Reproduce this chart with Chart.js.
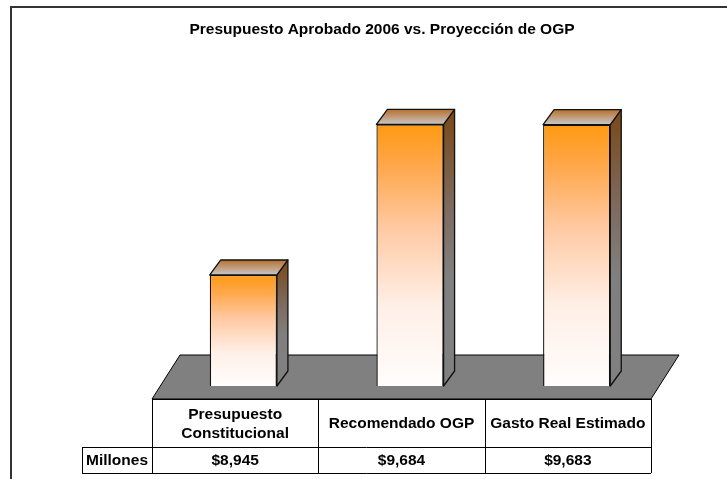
<!DOCTYPE html>
<html>
<head>
<meta charset="utf-8">
<script src="https://cdn.jsdelivr.net/npm/chart.js@4"></script>
<style>
  body { margin: 0; background: #fff; }
</style>
</head>
<body>
<canvas id="chart" width="727" height="479"></canvas>
<script>
const title = 'Presupuesto Aprobado 2006 vs. Proyección de OGP'
const categories = [['Presupuesto', 'Constitucional'], 'Recomendado OGP', 'Gasto Real Estimado']
const values = [8945, 9684, 9683]
const rowLabel = 'Millones'

const FONT = 'bold 15.5px "Liberation Sans", Arial, sans-serif'
const DX = 11, DY = 15

function frontFill(c) {
  const { chart } = c
  const { chartArea, scales } = chart
  if (!chartArea) return '#ff9a12'
  const top = scales.y.getPixelForValue(values[c.dataIndex])
  const g = chart.ctx.createLinearGradient(0, top, 0, chartArea.bottom)
  g.addColorStop(0, '#ff9a12')
  g.addColorStop(0.15, '#ffa648')
  g.addColorStop(0.4, '#ffcaa4')
  g.addColorStop(0.7, '#fff0e7')
  g.addColorStop(1, '#fffdfc')
  return g
}

const box3d = {
  id: 'box3d',
  beforeDraw(chart) {
    const ctx = chart.ctx
    ctx.save()
    ctx.strokeStyle = '#333'
    ctx.lineWidth = 2
    ctx.strokeRect(11, 7, 800, 600)
    ctx.restore()
  },
  beforeDatasetsDraw(chart) {
    const { ctx, chartArea: a } = chart
    ctx.save()
    ctx.beginPath()
    ctx.moveTo(a.left - 8, a.bottom + 13)
    ctx.lineTo(a.left + 20, a.bottom - 31)
    ctx.lineTo(a.right + 19, a.bottom - 31)
    ctx.lineTo(a.right - 9, a.bottom + 13)
    ctx.closePath()
    ctx.fillStyle = '#808080'
    ctx.fill()
    ctx.strokeStyle = '#000'
    ctx.lineWidth = 1
    ctx.stroke()
    ctx.restore()
  },
  afterDatasetsDraw(chart) {
    const { ctx, chartArea: a } = chart
    const meta = chart.getDatasetMeta(0)
    ctx.save()
    ctx.strokeStyle = '#111'
    ctx.lineWidth = 1.3
    ctx.lineJoin = 'round'
    meta.data.forEach(bar => {
      const { x, y, width } = bar.getProps(['x', 'y', 'width'], true)
      const base = a.bottom
      const l = x - width / 2, r = x + width / 2

      // side
      let g = ctx.createLinearGradient(0, y - DY, 0, base)
      g.addColorStop(0, '#7a4818')
      g.addColorStop(0.35, '#7e6a5e')
      g.addColorStop(0.6, '#808080')
      g.addColorStop(1, '#808080')
      ctx.beginPath()
      ctx.moveTo(r, y)
      ctx.lineTo(r + DX, y - DY)
      ctx.lineTo(r + DX, base - DY)
      ctx.lineTo(r, base)
      ctx.closePath()
      ctx.fillStyle = g
      ctx.fill()
      ctx.stroke()

      // top
      g = ctx.createLinearGradient(0, y - DY, 0, y)
      g.addColorStop(0, '#b8702e')
      g.addColorStop(1, '#c8c8c8')
      ctx.beginPath()
      ctx.moveTo(l, y)
      ctx.lineTo(l + DX, y - DY)
      ctx.lineTo(r + DX, y - DY)
      ctx.lineTo(r, y)
      ctx.closePath()
      ctx.fillStyle = g
      ctx.fill()
      ctx.stroke()
    })
    ctx.restore()
  },
  afterDraw(chart) {
    const { ctx, chartArea: a } = chart
    ctx.save()
    ctx.fillStyle = '#000'
    ctx.font = FONT
    ctx.textAlign = 'center'
    ctx.textBaseline = 'middle'
    ctx.fillText(title, 382, 30)

    // data table
    const left = a.left - 8, right = a.right - 9
    const top = a.bottom + 13, mid = top + 48, bottom = mid + 26
    const labelLeft = 82
    const colW = (right - left) / categories.length
    ctx.strokeStyle = '#000'
    ctx.lineWidth = 1
    ctx.beginPath()
    ctx.moveTo(left, top + 0.5); ctx.lineTo(right, top + 0.5)
    ctx.moveTo(labelLeft, mid + 0.5); ctx.lineTo(right, mid + 0.5)
    ctx.moveTo(labelLeft, bottom + 0.5); ctx.lineTo(right, bottom + 0.5)
    ctx.moveTo(labelLeft + 0.5, mid); ctx.lineTo(labelLeft + 0.5, bottom)
    for (let i = 0; i <= categories.length; i++) {
      const xl = Math.round(left + colW * i) + 0.5
      ctx.moveTo(xl, top); ctx.lineTo(xl, bottom)
    }
    ctx.stroke()

    categories.forEach((cat, i) => {
      const cx = left + colW * (i + 0.5)
      const lines = Array.isArray(cat) ? cat : [cat]
      const lh = 19
      const cy = (top + mid) / 2 + 1
      lines.forEach((t, j) => {
        ctx.fillText(t, cx, cy + (j - (lines.length - 1) / 2) * lh)
      })
      ctx.fillText('$' + values[i].toLocaleString('en-US'), cx, (mid + bottom) / 2 + 1)
    })
    ctx.fillText(rowLabel, (labelLeft + left) / 2, (mid + bottom) / 2 + 1)
    ctx.restore()
  }
}

new Chart(document.getElementById('chart'), {
  type: 'bar',
  data: {
    labels: categories,
    datasets: [{
      data: values,
      backgroundColor: frontFill,
      borderColor: '#111',
      borderWidth: 1.3,
      barPercentage: 0.403,
      categoryPercentage: 1
    }]
  },
  options: {
    responsive: false,
    animation: false,
    layout: { padding: { top: 100.8, left: 160, right: 67, bottom: 93 } },
    plugins: { legend: { display: false }, tooltip: { enabled: false }, title: { display: false } },
    scales: {
      x: { display: false },
      y: { display: false, min: 8400, max: 9800 }
    }
  },
  plugins: [box3d]
})
</script>
</body>
</html>
